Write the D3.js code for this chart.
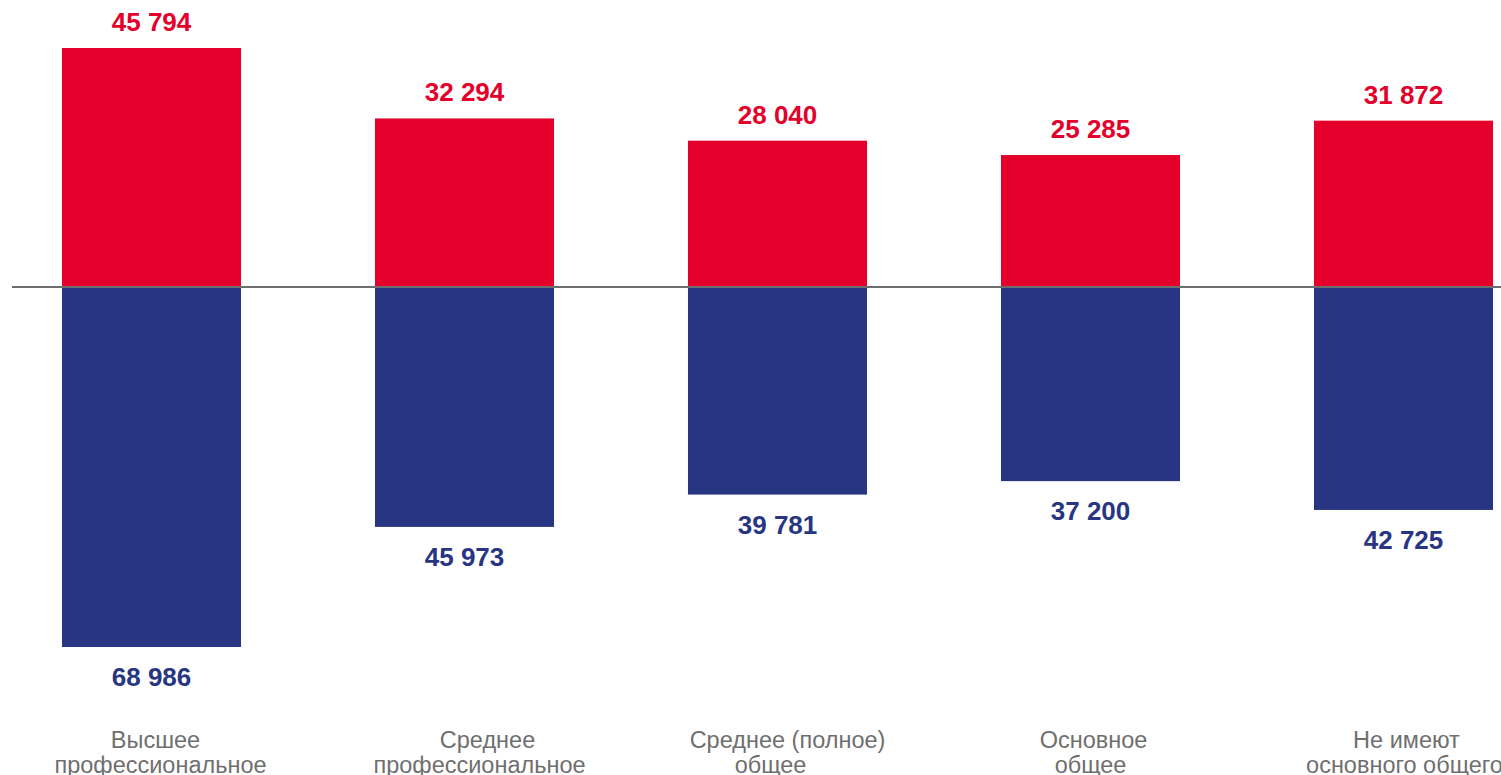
<!DOCTYPE html>
<html><head><meta charset="utf-8">
<script src="https://cdn.jsdelivr.net/npm/d3@7"></script>
<style>body{margin:0;background:#fff;overflow:hidden}svg{display:block}</style>
</head><body>
<svg id="c" width="1501" height="775"></svg>
<script>
const categories = ["Высшее профессиональное","Среднее профессиональное","Среднее (полное) общее","Основное общее","Не имеют основного общего"];
const categoryLines = [["Высшее","профессиональное"],["Среднее","профессиональное"],["Среднее (полное)","общее"],["Основное","общее"],["Не имеют","основного общего"]];
const redValues = [45794, 32294, 28040, 25285, 31872];
const blueValues = [68986, 45973, 39781, 37200, 42725];

// layout nudges for category label lines (pixels)
const labelNudge = [[4, 9], [23, 15], [10, -7], [3, 0], [3, 1]];

const svg = d3.select("#c");
const font = "'Liberation Sans', Arial, sans-serif";
const red = "#E4002B", blue = "#283582", grey = "#6e6e6e";

const x = d3.scaleBand().domain(categories).range([-5, 1560]).paddingInner(0.428).paddingOuter(0.214);
const y = d3.scaleLinear().domain([-68986, 45794]).range([647, 48]);
const fmt = v => d3.format(",")(v).replace(/,/g, " ");

const data = categories.map((c, i) => ({c, i, r: redValues[i], b: blueValues[i], lines: categoryLines[i]}));

svg.selectAll("rect.r").data(data).join("rect").attr("class","r")
  .attr("x", d => x(d.c)).attr("width", x.bandwidth())
  .attr("y", d => y(d.r)).attr("height", d => y(0) - y(d.r)).attr("fill", red);
svg.selectAll("rect.b").data(data).join("rect").attr("class","b")
  .attr("x", d => x(d.c)).attr("width", x.bandwidth())
  .attr("y", y(0)).attr("height", d => y(-d.b) - y(0)).attr("fill", blue);

svg.append("line").attr("x1", 12).attr("x2", 1501).attr("y1", y(0)).attr("y2", y(0))
  .attr("stroke", grey).attr("stroke-width", 2);

svg.selectAll("text.rl").data(data).join("text").attr("class","rl")
  .attr("x", d => x(d.c) + x.bandwidth()/2).attr("y", d => y(d.r) - 17)
  .attr("text-anchor","middle").attr("font-family", font).attr("font-weight","bold")
  .attr("font-size", 26).attr("fill", red).text(d => fmt(d.r));
svg.selectAll("text.bl").data(data).join("text").attr("class","bl")
  .attr("x", d => x(d.c) + x.bandwidth()/2).attr("y", d => y(-d.b) + 39)
  .attr("text-anchor","middle").attr("font-family", font).attr("font-weight","bold")
  .attr("font-size", 26).attr("fill", blue).text(d => fmt(d.b));

const cl = svg.selectAll("text.cl").data(data).join("text").attr("class","cl")
  .attr("text-anchor","middle").attr("font-family", font)
  .attr("font-size", 23.5).attr("fill", "#6f6f6f");
cl.selectAll("tspan").data(d => d.lines.map((l, j) => ({l, cx: x(d.c) + x.bandwidth()/2 + labelNudge[d.i][j]})))
  .join("tspan").attr("x", t => t.cx).attr("y", (t, i) => 748 + i*25).text(t => t.l);
</script>
</body></html>
